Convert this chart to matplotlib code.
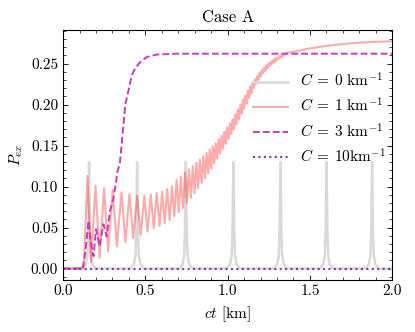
import matplotlib
matplotlib.use("Agg")
import matplotlib.pyplot as plt
from matplotlib.ticker import MultipleLocator

plt.rcParams.update({
    "font.family": "serif",
    "font.serif": ["cmr10", "DejaVu Serif"],
    "mathtext.fontset": "cm",
    "axes.formatter.use_mathtext": True,
    "font.size": 11,
    "axes.unicode_minus": False,
})

# ---- data ----
labels = [r"$C\:=\:0$ km$^{-1}$", r"$C\:=\:1$ km$^{-1}$", r"$C\:=\:3$ km$^{-1}$", r"$C\:=\:10$km$^{-1}$"]

x_c0 = [0.0,
        0.118, 0.138, 0.148, 0.153, 0.158, 0.163, 0.168, 0.178, 0.198,
        0.410, 0.430, 0.440, 0.445, 0.450, 0.455, 0.460, 0.470, 0.490,
        0.706, 0.726, 0.736, 0.741, 0.746, 0.751, 0.756, 0.766, 0.786,
        0.995, 1.015, 1.025, 1.030, 1.035, 1.040, 1.045, 1.055, 1.075,
        1.281, 1.301, 1.311, 1.316, 1.321, 1.326, 1.331, 1.341, 1.361,
        1.561, 1.581, 1.591, 1.596, 1.601, 1.606, 1.611, 1.621, 1.641,
        1.838, 1.858, 1.868, 1.873, 1.878, 1.883, 1.888, 1.898, 1.918,
        2.0]
y_c0 = [0.0,
        0.0, 0.005, 0.016, 0.050, 0.130, 0.050, 0.016, 0.005, 0.0,
        0.0, 0.005, 0.016, 0.050, 0.130, 0.050, 0.016, 0.005, 0.0,
        0.0, 0.005, 0.016, 0.050, 0.130, 0.050, 0.016, 0.005, 0.0,
        0.0, 0.005, 0.016, 0.050, 0.130, 0.050, 0.016, 0.005, 0.0,
        0.0, 0.005, 0.016, 0.050, 0.130, 0.050, 0.016, 0.005, 0.0,
        0.0, 0.005, 0.016, 0.050, 0.130, 0.050, 0.016, 0.005, 0.0,
        0.0, 0.005, 0.016, 0.050, 0.130, 0.050, 0.016, 0.005, 0.0,
        0.0]

x_c1 = [0.0, 0.100, 0.125, 0.136, 0.148,
        0.170, 0.197, 0.222, 0.249, 0.274, 0.302, 0.327, 0.355, 0.379, 0.403,
        0.426, 0.450, 0.472, 0.494, 0.513, 0.533, 0.551, 0.569, 0.586, 0.602,
        0.618, 0.633, 0.648, 0.662, 0.676, 0.690, 0.703, 0.716, 0.728, 0.741,
        0.753, 0.765, 0.777, 0.788, 0.799, 0.810, 0.821, 0.831, 0.842, 0.852,
        0.862, 0.872, 0.882, 0.891, 0.901, 0.910, 0.919, 0.928, 0.937, 0.946,
        0.955, 0.963, 0.972, 0.980, 0.989, 0.997, 1.006, 1.014, 1.022, 1.030,
        1.038, 1.046, 1.054, 1.062, 1.070, 1.078, 1.086, 1.093, 1.101, 1.108,
        1.116, 1.123, 1.131, 1.138, 1.145, 1.152, 1.159, 1.166, 1.173, 1.180,
        1.187, 1.194, 1.201, 1.208, 1.215, 1.222, 1.229, 1.235, 1.242, 1.248,
        1.255, 1.261, 1.268, 1.274, 1.281, 1.287, 1.294, 1.300, 1.307, 1.313,
        1.320, 1.326, 1.332, 1.338, 1.344, 1.350,
        1.40, 1.45, 1.50, 1.60, 1.70, 1.80, 1.90, 2.00]
y_c1 = [0.0, 0.0, 0.003, 0.050, 0.113,
        0.008, 0.101, 0.013, 0.098, 0.021, 0.096, 0.027, 0.093, 0.032, 0.091,
        0.037, 0.089, 0.041, 0.089, 0.045, 0.090, 0.049, 0.092, 0.052, 0.094,
        0.055, 0.097, 0.059, 0.100, 0.064, 0.108, 0.069, 0.112, 0.074, 0.117,
        0.080, 0.121, 0.086, 0.125, 0.092, 0.129, 0.098, 0.133, 0.104, 0.137,
        0.110, 0.141, 0.116, 0.145, 0.122, 0.149, 0.128, 0.153, 0.134, 0.158,
        0.140, 0.162, 0.146, 0.167, 0.152, 0.172, 0.158, 0.177, 0.164, 0.182,
        0.170, 0.188, 0.176, 0.194, 0.182, 0.200, 0.189, 0.206, 0.195, 0.211,
        0.201, 0.217, 0.208, 0.222, 0.214, 0.227, 0.220, 0.231, 0.225, 0.235,
        0.230, 0.239, 0.234, 0.242, 0.238, 0.245, 0.241, 0.248, 0.244, 0.250,
        0.247, 0.252, 0.249, 0.254, 0.251, 0.256, 0.253, 0.257, 0.255, 0.259,
        0.257, 0.260, 0.258, 0.2615, 0.260, 0.2625,
        0.2645, 0.2665, 0.2685, 0.2715, 0.2738, 0.2755, 0.2765, 0.2772]

x_c3 = [0.0, 0.120, 0.135, 0.155, 0.170, 0.185, 0.200, 0.222, 0.245, 0.265,
        0.285, 0.305, 0.318, 0.330, 0.345, 0.360, 0.378, 0.395, 0.418, 0.440,
        0.470, 0.510, 0.570, 0.680, 2.0]
y_c3 = [0.0, 0.0, 0.020, 0.058, 0.030, 0.015, 0.048, 0.027, 0.054, 0.039,
        0.070, 0.085, 0.100, 0.118, 0.128, 0.160, 0.200, 0.215, 0.236, 0.245,
        0.252, 0.258, 0.261, 0.262, 0.262]

x_c10 = [0.0, 2.0]
y_c10 = [0.0, 0.0]

# ---- plot ----
fig = plt.figure(figsize=(4.15, 3.32), dpi=100)
ax = fig.add_axes([0.152, 0.157, 0.793, 0.753])

ax.plot(x_c0, y_c0, color="#d9d9d9", lw=1.8, label=labels[0])
ax.plot(x_c1, y_c1, color="red", alpha=0.33, lw=1.5, label=labels[1])
ax.plot(x_c3, y_c3, color="#cc3cb4", lw=1.4, ls=(0, (3.5, 1.6)), label=labels[2])
ax.plot(x_c10, y_c10, color="#7a32c0", lw=1.5, ls=(0, (1, 1.6)), label=labels[3])

ax.set_xlim(0, 2.0)
ax.set_xlabel(r"$ct$ [km]")
ax.set_ylabel(r"$P_{ex}$")
ax.set_title("Case A", fontsize=12)

ax.xaxis.set_major_locator(MultipleLocator(0.5))
ax.xaxis.set_minor_locator(MultipleLocator(0.1))
ax.yaxis.set_major_locator(MultipleLocator(0.05))
ax.yaxis.set_minor_locator(MultipleLocator(0.01))
ax.xaxis.set_major_formatter(matplotlib.ticker.FormatStrFormatter("%.1f"))
ax.yaxis.set_major_formatter(matplotlib.ticker.FormatStrFormatter("%.2f"))
ax.tick_params(which="both", direction="in", top=True, right=True)
ax.tick_params(which="major", length=3.5, width=0.6)
ax.tick_params(which="minor", length=2, width=0.5)
for s in ax.spines.values():
    s.set_linewidth(0.8)

ax.legend(loc="center right", bbox_to_anchor=(1.0, 0.645), frameon=False,
          handlelength=2.3, handletextpad=0.8, labelspacing=0.45, fontsize=11,
          borderaxespad=0.0)

fig.savefig("out.png", dpi=100)
